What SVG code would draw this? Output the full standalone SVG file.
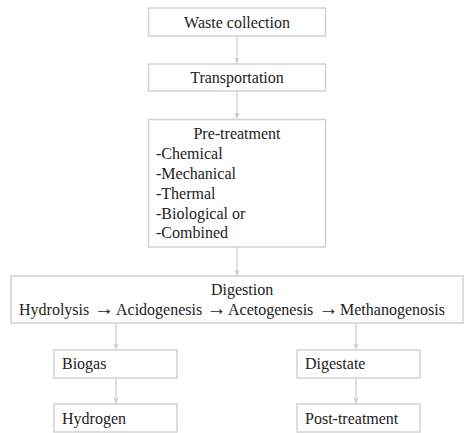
<svg xmlns="http://www.w3.org/2000/svg" width="464" height="433" viewBox="0 0 464 433">
<defs>
<style>
.box{fill:#fff;stroke:#d2d2d2;stroke-width:1.5}
.t{font-family:'Liberation Serif','Times New Roman','DejaVu Serif',serif;font-size:16px;fill:#222}
.ar{font-size:20px}
.c{stroke:#cfcfcf;stroke-width:1.3;fill:none;marker-end:url(#ah)}
</style>
<marker id="ah" viewBox="0 0 10 10" refX="10" refY="5" markerWidth="4" markerHeight="4" orient="auto" markerUnits="strokeWidth">
<path d="M0,0 L10,5 L0,10 z" fill="#cfcfcf"/>
</marker>
</defs>
<rect width="464" height="433" fill="#fff"/>
<g id="connectors">
<line class="c" x1="237" y1="36" x2="237" y2="63.5"/>
<line class="c" x1="237" y1="91" x2="237" y2="118.5"/>
<line class="c" x1="237" y1="247" x2="237" y2="275.5"/>
<line class="c" x1="116" y1="324" x2="116" y2="349.5"/>
<line class="c" x1="116" y1="378" x2="116" y2="403.5"/>
<line class="c" x1="356" y1="324" x2="356" y2="349.5"/>
<line class="c" x1="356" y1="378" x2="356" y2="403.5"/>
</g>
<g id="waste-collection">
<rect class="box" x="148.5" y="8" width="177" height="28"/>
<text class="t" x="237" y="28" text-anchor="middle">Waste collection</text>
</g>
<g id="transportation">
<rect class="box" x="148.5" y="64" width="177" height="27"/>
<text class="t" x="237" y="83" text-anchor="middle">Transportation</text>
</g>
<g id="pre-treatment">
<rect class="box" x="148.5" y="119.5" width="177" height="127.5"/>
<text class="t" x="237" y="139" text-anchor="middle">Pre-treatment</text>
<text class="t" x="156" y="159">-Chemical</text>
<text class="t" x="156" y="179">-Mechanical</text>
<text class="t" x="156" y="199">-Thermal</text>
<text class="t" x="156" y="218.5">-Biological or</text>
<text class="t" x="156" y="238">-Combined</text>
</g>
<g id="digestion">
<rect class="box" x="11" y="276" width="452" height="47"/>
<text class="t" x="211" y="295">Digestion</text>
<text class="t" y="315"><tspan x="19">Hydrolysis</tspan> <tspan class="ar" x="94">→</tspan> <tspan x="116">Acidogenesis</tspan> <tspan class="ar" x="206.5">→</tspan> <tspan x="228">Acetogenesis</tspan> <tspan class="ar" x="318.5">→</tspan> <tspan x="340">Methanogenosis</tspan></text>
</g>
<g id="biogas">
<rect class="box" x="54" y="350" width="123" height="28"/>
<text class="t" x="62" y="369">Biogas</text>
</g>
<g id="hydrogen">
<rect class="box" x="54" y="404" width="123" height="28"/>
<text class="t" x="62" y="424">Hydrogen</text>
</g>
<g id="digestate">
<rect class="box" x="297" y="350" width="123" height="28"/>
<text class="t" x="305" y="369">Digestate</text>
</g>
<g id="post-treatment">
<rect class="box" x="297" y="404" width="123" height="28"/>
<text class="t" x="305" y="424">Post-treatment</text>
</g>
</svg>
